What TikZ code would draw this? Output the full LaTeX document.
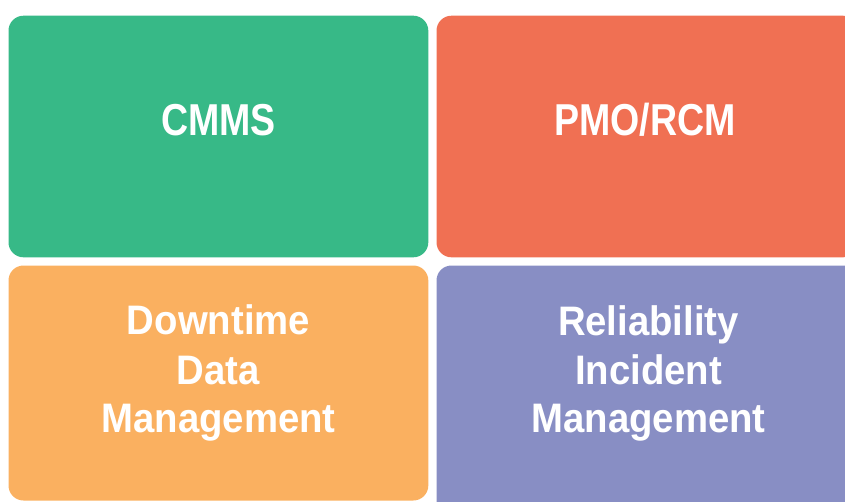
\documentclass[tikz,border=0pt]{standalone}
\usepackage{fontspec}
\newfontfamily\capsfont{Liberation Sans}[FakeStretch=0.84]
\newfontfamily\wordfont{Liberation Sans}[FakeStretch=0.93]
\definecolor{tilegreen}{HTML}{37B987}
\definecolor{tilered}{HTML}{F07053}
\definecolor{tileorange}{HTML}{FAB060}
\definecolor{tilepurple}{HTML}{888EC4}
\tikzset{
  tile/.style={rounded corners=15pt},
  bigtitle/.style={text=white, anchor=base, inner sep=0pt, font=\capsfont\bfseries\fontsize{44.7}{48}\selectfont},
  linetitle/.style={text=white, anchor=base, inner sep=0pt, font=\wordfont\bfseries\fontsize{41.2}{48}\selectfont},
}
\begin{document}
\begin{tikzpicture}[x=1pt,y=1pt]
  \useasboundingbox (0,0) rectangle (845,-501);
  \clip (0,0) rectangle (845,-501);
  % four coloured tiles
  \fill[tile, tilegreen]  (8.5,-15.7)  rectangle (428.3,-257.3);
  \fill[tile, tilered]    (436.5,-15.7) rectangle (858,-257.3);
  \fill[tile, tileorange] (8.5,-265.5)  rectangle (428.3,-500.5);
  \fill[tile, tilepurple] (436.5,-265.5) rectangle (858,-515);
  % titles
  \node[bigtitle] (cmms) at (218.4,-135) {CMMS};
  \node[bigtitle] (pmo)  at (645,-135) {PMO/RCM};
  \node[linetitle] (dt1) at (218.5,-334.5) {Downtime};
  \node[linetitle] (dt2) at (218.5,-384.5) {Data};
  \node[linetitle] (dt3) at (218.5,-432) {Management};
  \node[linetitle] (ri1) at (648.5,-335.5) {Reliability};
  \node[linetitle] (ri2) at (648.5,-384.5) {Incident};
  \node[linetitle] (ri3) at (648.5,-432) {Management};
\end{tikzpicture}
\end{document}
